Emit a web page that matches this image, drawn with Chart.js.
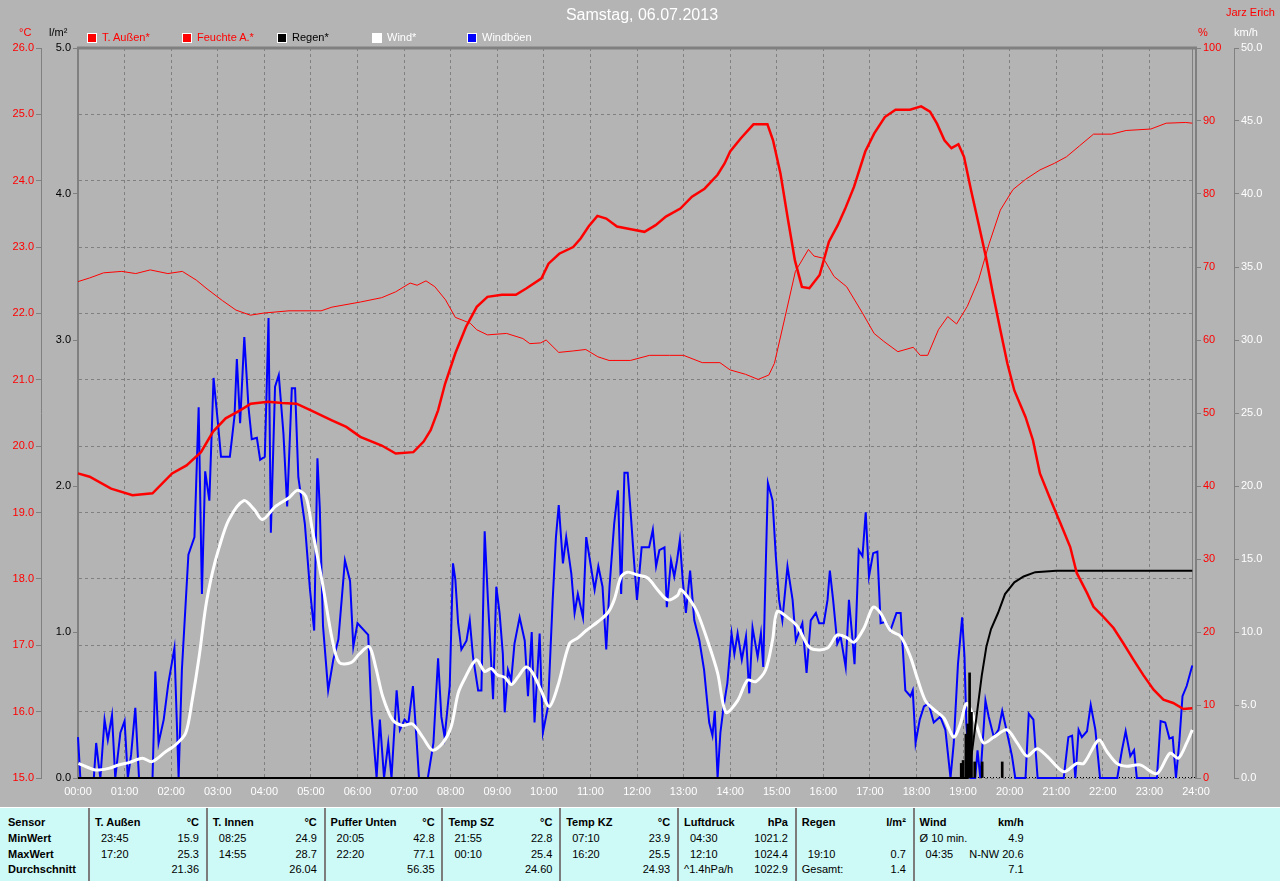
<!DOCTYPE html>
<html>
<head>
<meta charset="utf-8">
<title>Samstag, 06.07.2013</title>
<script src="https://cdn.jsdelivr.net/npm/chart.js"></script>
<style>
  body { margin:0; width:1280px; height:881px; background:#b4b4b4; overflow:hidden; position:relative;
         font-family:"Liberation Sans", Arial, sans-serif; }
  #wrap { position:absolute; left:0; top:0; width:1280px; height:808px; }
  .t { position:absolute; white-space:nowrap; font-size:11px; line-height:13px; }
  #title { position:absolute; left:0; width:1284px; top:6px; text-align:center; font-size:16px; line-height:18px; color:#fff; }
  .box { position:absolute; top:33px; width:8px; height:8px; border:1px solid #fff; }
  #tbl { position:absolute; left:0; top:807px; width:1280px; height:74px; background:#cdf9f6; border-top:1px solid #fff; }
  .sep { position:absolute; top:0; height:74px; width:2px; background:#7c7c7c; }
  #tbl .t { color:#000; }
  .b { font-weight:bold; }
</style>
</head>
<body>
<div id="wrap"><canvas id="c" width="1280" height="808"></canvas></div>
<div id="title">Samstag, 06.07.2013</div>
<div class="t" style="left:1226px;top:6px;color:#f00">Jarz Erich</div>
<div class="t" style="left:19px;top:26px;color:#f00">°C</div>
<div class="t" style="left:49px;top:26px;color:#000">l/m²</div>
<div class="t" style="left:1198px;top:26px;color:#f00">%</div>
<div class="t" style="left:1234px;top:26px;color:#fff">km/h</div>
<div id="legend"></div>
<div id="tbl"></div>

<script>
// T. Außen (°C)
const tempHours = [0,0.25,0.71,1.17,1.6,2.02,2.33,2.64,2.9,3.17,3.48,3.71,4.08,4.38,4.69,5.0,5.45,5.76,6.06,6.52,6.82,7.2,7.42,7.57,7.73,7.88,8.1,8.33,8.56,8.79,9.1,9.4,9.63,9.95,10.1,10.33,10.63,10.79,10.96,11.15,11.34,11.57,11.87,12.16,12.4,12.62,12.93,13.18,13.45,13.73,13.88,14.0,14.23,14.5,14.8,14.92,15.08,15.23,15.39,15.54,15.7,15.92,16.12,16.31,16.47,16.66,16.9,17.09,17.32,17.55,17.86,18.1,18.29,18.44,18.6,18.75,18.9,19.02,19.17,19.33,19.49,19.64,19.8,19.95,20.1,20.34,20.5,20.65,20.88,21.09,21.3,21.44,21.66,21.8,22.01,22.23,22.44,22.66,22.87,23.09,23.3,23.51,23.73,23.92];
const tempVals = [19.59,19.54,19.36,19.26,19.29,19.59,19.71,19.91,20.22,20.42,20.54,20.64,20.67,20.65,20.64,20.54,20.39,20.29,20.14,20.01,19.89,19.91,20.07,20.24,20.54,20.94,21.40,21.80,22.10,22.25,22.28,22.28,22.38,22.53,22.75,22.90,23.0,23.13,23.31,23.47,23.43,23.31,23.27,23.23,23.33,23.46,23.58,23.76,23.88,24.09,24.26,24.44,24.64,24.85,24.85,24.61,24.11,23.46,22.80,22.40,22.38,22.58,23.08,23.33,23.58,23.91,24.44,24.71,24.96,25.07,25.07,25.12,25.04,24.86,24.61,24.49,24.55,24.36,23.86,23.36,22.85,22.30,21.75,21.25,20.84,20.44,20.09,19.59,19.19,18.84,18.48,18.09,17.79,17.58,17.43,17.26,17.03,16.78,16.55,16.33,16.18,16.13,16.04,16.05];

// Feuchte A. (%)
const humHours = [0,0.25,0.55,0.94,1.24,1.55,1.93,2.24,2.54,2.77,3.1,3.39,3.7,4.0,4.53,5.22,5.45,6.06,6.52,6.82,7.13,7.28,7.47,7.66,7.89,8.1,8.42,8.56,8.79,9.2,9.55,9.7,9.93,10.05,10.32,10.63,10.9,11.16,11.4,11.86,12.27,12.7,13.0,13.4,13.78,14.0,14.33,14.6,14.83,14.95,15.18,15.4,15.68,15.8,16.0,16.23,16.5,16.84,17.09,17.3,17.6,17.93,18.08,18.24,18.47,18.67,18.86,19.09,19.33,19.56,19.8,20.07,20.34,20.65,20.96,21.22,21.5,21.8,22.19,22.5,23.03,23.36,23.78,23.92];
const humVals = [68.0,68.5,69.2,69.4,69.1,69.6,69.1,69.4,68.2,67.0,65.4,64.1,63.4,63.7,64.0,64.0,64.5,65.2,65.8,66.6,67.8,67.5,68.1,67.3,65.5,63.1,62.3,61.4,60.7,60.9,60.2,59.5,59.6,60.0,58.3,58.5,58.7,57.7,57.2,57.2,57.9,57.9,57.9,56.9,56.9,55.9,55.3,54.6,55.2,56.8,63.2,69.4,72.4,71.5,71.2,68.7,67.3,63.7,60.9,59.8,58.4,59.0,57.9,57.9,61.4,63.2,62.2,64.6,68.2,73.2,77.8,80.6,82.0,83.3,84.2,85.1,86.6,88.2,88.2,88.7,88.9,89.7,89.8,89.7];

// Regen (l/m², cumulative) and rain per interval
const rainHours = [0,19.1,19.2,19.3,19.4,19.5,19.6,19.75,19.9,20.1,20.3,20.55,21.0,23.92];
const rainVals = [0,0,0.2,0.45,0.7,0.9,1.02,1.13,1.26,1.34,1.38,1.41,1.42,1.42];
const rateHours = [18.96,19.0,19.06,19.1,19.14,19.18,19.25,19.41,19.84];
const rateVals = [0.1,0.12,0.3,0.37,0.72,0.45,0.11,0.11,0.11];

// Wind (km/h)
const windHours = [0.01,0.37,0.66,0.87,1.09,1.38,1.59,1.88,2.09,2.31,2.45,2.6,2.74,2.88,3.03,3.24,3.56,3.78,3.96,4.24,4.53,4.71,4.89,5.03,5.25,5.46,5.61,5.86,6.04,6.25,6.39,6.54,6.75,6.97,7.18,7.4,7.61,7.83,8.01,8.16,8.3,8.55,8.73,8.87,9.01,9.16,9.3,9.44,9.62,9.76,9.94,10.12,10.3,10.55,10.73,10.91,11.16,11.37,11.51,11.66,11.8,12.01,12.23,12.44,12.66,12.87,12.94,13.16,13.3,13.51,13.73,13.91,14.16,14.37,14.55,14.76,14.91,15.01,15.23,15.44,15.66,15.8,16.09,16.3,16.51,16.66,16.87,17.07,17.23,17.44,17.66,17.87,18.01,18.19,18.37,18.59,18.8,18.94,19.07,19.19,19.3,19.44,19.66,19.94,20.16,20.37,20.59,20.8,21.16,21.44,21.59,21.91,22.09,22.3,22.51,22.8,23.16,23.44,23.62,23.8,23.92];
const windVals = [1.0,0.55,0.66,0.89,1.05,1.35,1.12,1.8,2.26,3.06,5.3,8.3,11.7,14.0,15.8,17.7,19.0,18.4,17.7,18.6,19.2,19.7,19.3,17.0,13.3,9.45,7.9,7.9,8.5,9.0,7.6,5.6,4.0,3.6,3.7,2.8,1.9,2.4,3.5,5.8,6.8,8.1,7.3,7.5,7.05,6.9,6.4,6.9,7.6,7.2,6.0,4.9,6.3,9.2,9.6,10.1,10.7,11.3,12.2,13.8,14.1,13.9,13.7,12.9,12.2,12.5,12.9,12.1,11.3,9.45,7.2,4.5,5.3,6.7,6.6,7.4,9.45,11.4,11.0,10.4,9.1,8.8,8.9,9.8,9.6,9.3,10.25,11.7,11.3,10.1,9.7,8.3,6.9,5.3,4.7,4.1,2.8,3.7,5.1,4.5,3.5,2.4,2.8,3.3,2.4,1.5,2.0,1.5,0.43,1.0,1.0,2.6,1.8,1.0,0.8,0.9,0.3,1.7,1.35,2.4,3.3];

// Windböen (km/h)
const gustHours = [0,0.05,0.34,0.39,0.44,0.48,0.57,0.64,0.73,0.8,0.91,1.0,1.07,1.14,1.23,1.31,1.6,1.66,1.73,1.84,1.94,2.07,2.16,2.23,2.37,2.5,2.59,2.66,2.73,2.82,2.91,3.01,3.07,3.26,3.36,3.41,3.48,3.57,3.66,3.73,3.84,3.91,4.01,4.05,4.09,4.14,4.23,4.31,4.41,4.49,4.59,4.66,4.73,4.87,4.98,5.07,5.14,5.19,5.26,5.37,5.48,5.59,5.73,5.84,5.91,6.0,6.23,6.3,6.41,6.48,6.57,6.66,6.73,6.84,6.91,7.01,7.09,7.19,7.26,7.32,7.51,7.63,7.73,7.8,7.87,7.98,8.05,
  8.1,8.16,8.23,8.34,8.41,8.48,8.59,8.66,8.73,8.8,8.91,8.98,9.05,9.12,9.16,9.23,9.3,9.37,9.48,9.59,9.66,9.74,9.8,9.91,9.98,10.09,10.19,10.26,10.32,10.41,10.48,10.59,10.66,10.73,10.84,10.91,11.01,11.09,11.17,11.26,11.34,11.41,11.51,11.59,11.66,11.73,11.8,11.87,11.94,12.0,12.05,12.1,12.26,12.34,12.41,12.48,12.59,12.64,12.73,12.8,12.86,12.92,12.98,13.05,13.14,13.23,13.34,13.44,13.55,13.62,13.67,13.73,13.79,13.86,13.94,14.03,14.09,14.16,14.25,14.34,14.41,14.48,14.59,14.66,14.71,14.76,14.81,14.91,14.98,15.05,15.12,15.23,15.34,15.41,15.55,15.64,15.73,15.84,15.91,16.01,
  16.09,16.14,16.21,16.3,16.37,16.48,16.55,16.62,16.67,16.76,16.84,16.91,16.98,17.07,17.16,17.23,17.34,17.44,17.57,17.66,17.76,17.87,17.92,17.98,18.07,18.16,18.26,18.37,18.51,18.62,18.73,18.8,18.89,18.98,19.03,19.07,19.16,19.26,19.31,19.37,19.48,19.55,19.66,19.76,19.84,19.93,20.05,20.12,20.34,20.41,20.51,20.6,21.16,21.26,21.34,21.41,21.48,21.55,21.66,21.74,21.84,21.94,22.31,22.41,22.49,22.59,22.67,22.73,23.16,23.24,23.34,23.43,23.5,23.57,23.64,23.71,23.8,23.92];
const gustVals = [2.8,0,0,2.4,1.0,0,4.0,2.6,4.3,0,3.1,3.9,0,1.6,4.8,0,0,7.3,2.4,4.0,6.5,8.9,0,7.4,15.3,16.5,25.4,12.6,21.0,19.0,27.4,24.1,22.0,22.0,24.8,28.7,24.3,30.2,25.4,23.2,23.3,21.8,22.0,26.6,31.5,16.8,26.8,27.6,23.6,18.6,26.7,26.7,20.6,17.4,12.9,10.1,21.9,18.5,10.4,6.0,8.1,9.5,14.9,13.5,9.0,10.6,9.8,4.4,0,4.0,0,2.4,0,6.0,3.3,4.0,3.7,6.3,3.0,0,0,2.4,8.2,4.2,2.8,6.3,14.7,
  13.6,10.6,8.8,9.4,10.8,8.3,6.0,6.0,16.9,12.2,5.4,13.1,11.3,8.5,4.5,7.4,6.7,9.2,11.0,9.4,5.6,10.0,3.8,9.9,3.1,4.9,12.2,16.5,18.7,14.7,16.5,14.0,11.3,12.6,11.0,16.5,14.5,12.9,14.5,13.1,8.8,13.1,17.4,19.7,12.6,20.9,20.9,17.9,14.7,12.2,14.0,15.8,15.8,17.0,14.5,15.6,15.8,11.7,14.9,13.8,14.9,16.3,13.6,11.3,14.2,10.8,9.4,7.4,3.8,2.9,4.6,0,3.1,4.9,6.5,9.9,8.5,9.9,8.1,9.7,5.8,10.3,8.3,9.9,7.6,14.0,20.2,19.0,15.2,12.2,10.8,14.5,12.2,9.4,10.6,7.2,10.8,11.3,10.6,10.6,
  12.2,14.2,12.2,9.2,9.7,7.6,12.2,9.7,7.8,15.6,15.2,18.2,13.8,15.4,15.5,10.6,10.7,10.1,11.3,11.3,6.0,5.6,6.0,2.4,4.0,4.9,5.1,3.8,4.2,3.3,0,2.4,7.8,11.0,8.3,3.7,0,0,1.9,0,5.3,4.2,2.8,3.3,4.6,3.3,1.5,0,0,4.4,4.0,0,0,2.8,2.9,0,3.3,2.8,3.2,5.0,3.3,0,0,1.9,3.2,1.5,1.9,0,0,3.9,3.8,2.7,2.8,0,2.4,5.6,6.3,7.7];

// legend
const legendNames = ['T. Außen*', 'Feuchte A.*', 'Regen*', 'Wind*', 'Windböen'];
const legendFill = ['#ff0000', '#ff0000', '#000000', '#ffffff', '#0000ff'];
const legendText = ['#ff0000', '#ff0000', '#000000', '#ffffff', '#ffffff'];

// summary table
const sensorRows = ['Sensor', 'MinWert', 'MaxWert', 'Durchschnitt'];
const tableCols = [
  ['T. Außen', '°C', '23:45', '15.9', '17:20', '25.3', '', '21.36'],
  ['T. Innen', '°C', '08:25', '24.9', '14:55', '28.7', '', '26.04'],
  ['Puffer Unten', '°C', '20:05', '42.8', '22:20', '77.1', '', '56.35'],
  ['Temp SZ', '°C', '21:55', '22.8', '00:10', '25.4', '', '24.60'],
  ['Temp KZ', '°C', '07:10', '23.9', '16:20', '25.5', '', '24.93'],
  ['Luftdruck', 'hPa', '04:30', '1021.2', '12:10', '1024.4', '^1.4hPa/h', '1022.9'],
  ['Regen', 'l/m²', '', '', '19:10', '0.7', 'Gesamt:', '1.4'],
  ['Wind', 'km/h', 'Ø 10 min.', '4.9', '04:35', 'N-NW 20.6', '', '7.1']
];

const legend = document.getElementById('legend');
legendNames.forEach((n, i) => {
  const x = 87 + i * 95;
  legend.insertAdjacentHTML('beforeend',
    `<div class="box" style="left:${x}px;background:${legendFill[i]}"></div>` +
    `<div class="t" style="left:${x + 15}px;top:31px;color:${legendText[i]}">${n}</div>`);
});

const tbl = document.getElementById('tbl');
const rowTop = [8, 24, 40, 55];
sensorRows.forEach((r, i) => {
  tbl.insertAdjacentHTML('beforeend', `<div class="t b" style="left:8px;top:${rowTop[i]}px">${r}</div>`);
});
tableCols.forEach((c, k) => {
  const sep = 88 + k * 117.8, left = sep + 7, right = 1280 - (sep + 111);
  let h = `<div class="sep" style="left:${sep}px"></div>`;
  h += `<div class="t b" style="left:${left}px;top:${rowTop[0]}px">${c[0]}</div>`;
  h += `<div class="t b" style="right:${right}px;top:${rowTop[0]}px">${c[1]}</div>`;
  for (let r = 1; r < 4; r++) {
    const lab = c[r * 2], val = c[r * 2 + 1];
    const lx = /^\d\d:\d\d$/.test(lab) ? left + 6 : left;
    if (lab) h += `<div class="t" style="left:${lx}px;top:${rowTop[r]}px">${lab}</div>`;
    if (val) h += `<div class="t" style="right:${right}px;top:${rowTop[r]}px">${val}</div>`;
  }
  tbl.insertAdjacentHTML('beforeend', h);
});

const pts = (hs, vs) => hs.map((x, i) => ({x, y: vs[i]}));
const font = {family: "'Liberation Sans', Arial, sans-serif", size: 11};
const width = w => s => { s.width = w; };

const frame = {
  id: 'frame',
  beforeDatasetsDraw(chart) {
    const {ctx, chartArea: a} = chart;
    ctx.save();
    ctx.strokeStyle = '#000';
    ctx.lineWidth = 1;
    ctx.setLineDash([1, 2]);
    ctx.beginPath(); ctx.moveTo(a.left, a.bottom - 0.5); ctx.lineTo(a.right, a.bottom - 0.5); ctx.stroke();
    ctx.setLineDash([]);
    ctx.strokeStyle = '#808080';
    ctx.lineWidth = 3;
    ctx.beginPath(); ctx.moveTo(a.left - 1, a.top); ctx.lineTo(a.right + 1, a.top); ctx.stroke();
    ctx.lineWidth = 1;
    ctx.beginPath(); ctx.moveTo(a.right - 3.5, a.top); ctx.lineTo(a.right - 3.5, a.bottom); ctx.stroke();
    ctx.restore();
  }
};

const yAxis = (pos, weight, min, max, step, w, color, fmt, grid) => ({
  position: pos, weight, min, max, afterFit: width(w),
  ticks: {stepSize: step, color, font, padding: 2, callback: fmt},
  grid: {drawOnChartArea: grid, color: '#808080', tickColor: '#808080', tickLength: 5},
  border: {color: '#808080', width: weight === 0 ? 2 : 1, dash: [3, 3]}
});

new Chart(document.getElementById('c'), {
  type: 'line',
  data: {
    datasets: [
      {label: 'T. Außen*', data: pts(tempHours, tempVals), yAxisID: 'yT', borderColor: '#ff0000', borderWidth: 2.5, clip: 3},
      {label: 'Feuchte A.*', data: pts(humHours, humVals), yAxisID: 'yH', borderColor: '#ff0000', borderWidth: 1, clip: 3},
      {label: 'Regen*', data: pts(rainHours, rainVals), yAxisID: 'yR', borderColor: '#000000', borderWidth: 2, clip: 3},
      {type: 'bar', label: 'Regen', data: pts(rateHours, rateVals), yAxisID: 'yR', backgroundColor: '#000000', barThickness: 2, clip: 3},
      {label: 'Wind*', data: pts(windHours, windVals), yAxisID: 'yW', borderColor: '#ffffff', borderWidth: 3, tension: 0.3, clip: 3},
      {label: 'Windböen', data: pts(gustHours, gustVals), yAxisID: 'yW', borderColor: '#0000ff', borderWidth: 2, clip: 3}
    ]
  },
  options: {
    responsive: false,
    animation: false,
    layout: {padding: {top: 48}},
    elements: {point: {radius: 0}, line: {tension: 0}},
    plugins: {legend: {display: false}, tooltip: {enabled: false}},
    scales: {
      x: {
        type: 'linear', min: 0, max: 24, position: 'bottom', offset: false,
        afterFit: s => { s.height = 30; },
        ticks: {stepSize: 1, color: '#ffffff', font, padding: 7, maxRotation: 0, autoSkip: false,
                callback: v => String(v).padStart(2, '0') + ':00'},
        grid: {color: '#808080', drawTicks: false, offset: false},
        border: {display: false, dash: [3, 3]}
      },
      yR: yAxis('left', 0, 0, 5, 1, 37, '#000000', v => v.toFixed(1), false),
      yT: yAxis('left', 1, 15, 26, 1, 41, '#ff0000', v => v.toFixed(1), true),
      yH: yAxis('right', 0, 0, 100, 10, 38, '#ff0000', v => String(v), false),
      yW: yAxis('right', 1, 0, 50, 5, 46, '#ffffff', v => v.toFixed(1), false)
    }
  },
  plugins: [frame]
});
</script>
</body>
</html>
